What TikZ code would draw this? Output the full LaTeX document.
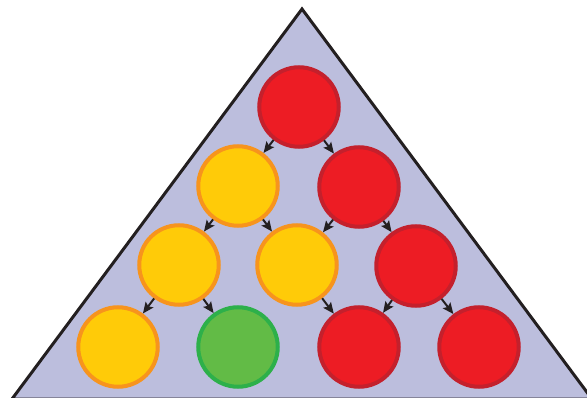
\documentclass[tikz,border=0pt]{standalone}
\usetikzlibrary{arrows.meta}
\definecolor{bg}{HTML}{BCBEDD}
\definecolor{redf}{HTML}{ED1C24}
\definecolor{redb}{HTML}{C4202C}
\definecolor{yelf}{HTML}{FFCB08}
\definecolor{yelb}{HTML}{F7941D}
\definecolor{grnf}{HTML}{62BB46}
\definecolor{grnb}{HTML}{2DB04A}
\definecolor{ink}{HTML}{231F20}
\tikzset{
  ball/.style={circle, minimum size=79.5pt, inner sep=0pt, line width=4pt, outer sep=2pt},
  redball/.style={ball, fill=redf, draw=redb},
  yelball/.style={ball, fill=yelf, draw=yelb},
  grnball/.style={ball, fill=grnf, draw=grnb},
  link/.style={-{Stealth[length=11pt,width=9.5pt,inset=2pt]}, line width=2pt, draw=ink}
}
\begin{document}
\begin{tikzpicture}[x=1pt,y=-1pt]
\useasboundingbox (0,0) rectangle (587,398);
\clip (0,0) rectangle (587,398);
\draw[fill=bg, draw=ink, line width=3pt, line join=miter] (302,9) -- (12,399) -- (592,399) -- cycle;
\node[redball] (a) at (299,107) {};
\node[yelball] (b1) at (238,186) {};
\node[redball] (b2) at (359,187) {};
\node[yelball] (c1) at (179,265) {};
\node[yelball] (c2) at (297,265) {};
\node[redball] (c3) at (416,266) {};
\node[yelball] (d1) at (118,347) {};
\node[grnball] (d2) at (238,347) {};
\node[redball] (d3) at (359,347) {};
\node[redball] (d4) at (479,347) {};
\draw[link] (a) -- (b1);
\draw[link] (a) -- (b2);
\draw[link] (b1) -- (c1);
\draw[link] (b1) -- (c2);
\draw[link] (b2) -- (c2);
\draw[link] (b2) -- (c3);
\draw[link] (c1) -- (d1);
\draw[link] (c1) -- (d2);
\draw[link] (c2) -- (d3);
\draw[link] (c3) -- (d3);
\draw[link] (c3) -- (d4);
\end{tikzpicture}
\end{document}
